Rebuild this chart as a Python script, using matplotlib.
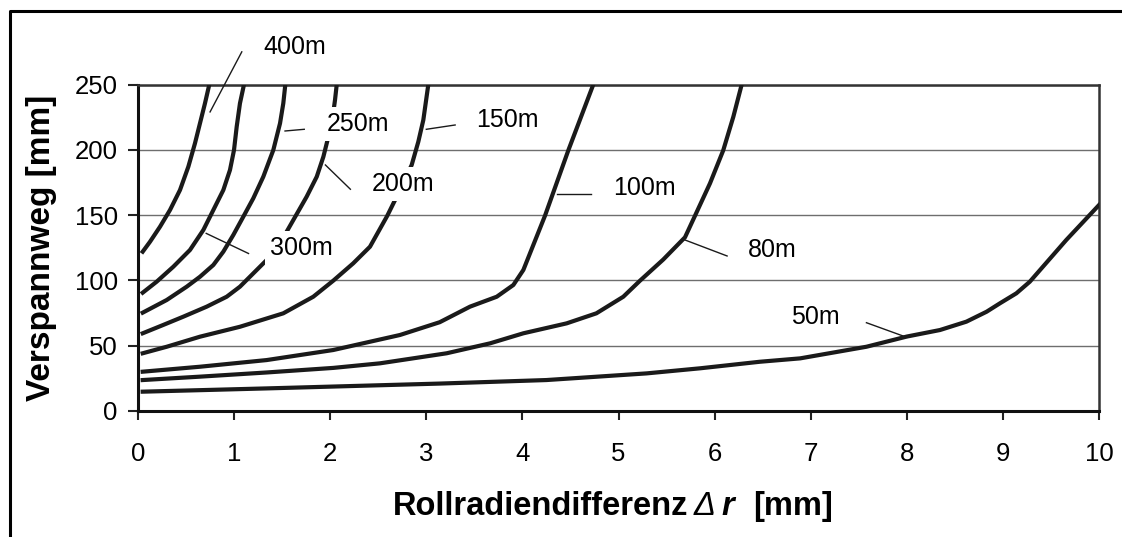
import matplotlib
matplotlib.use("Agg")
import matplotlib.pyplot as plt
from matplotlib.lines import Line2D

plt.rcParams["font.family"] = ["Liberation Sans", "DejaVu Sans"]

# curves: x = Rollradiendifferenz [mm], y = Verspannweg [mm]
r400_x = [0.049, 0.125, 0.229, 0.333, 0.437, 0.524, 0.593, 0.645, 0.697, 0.742]
r400_y = [122, 129.6, 141.1, 153.9, 169.2, 187.1, 205, 220.3, 235.6, 250]

r300_x = [0.049, 0.194, 0.368, 0.541, 0.680, 0.784, 0.888, 0.957, 0.999, 1.027, 1.061, 1.103]
r300_y = [90.6, 99, 110.5, 123.3, 138.6, 153.9, 169.2, 184.5, 199.8, 217.7, 235.6, 250]

r250_x = [0.049, 0.299, 0.507, 0.645, 0.784, 0.888, 0.992, 1.096, 1.200, 1.304, 1.408,
          1.478, 1.512, 1.533]
r250_y = [75.3, 85, 95.2, 102.8, 111.8, 122, 134.8, 148.8, 162.9, 179.4, 199.8,
          220.3, 235.6, 250]

r200_x = [0.049, 0.263, 0.471, 0.715, 0.923, 1.061, 1.200, 1.339, 1.478, 1.616, 1.755,
          1.860, 1.929, 1.981, 2.026, 2.050, 2.068]
r200_y = [59.5, 65.9, 72.2, 79.9, 87.5, 95.2, 105.4, 115.6, 128.4, 146.2, 164.1,
          179.4, 194.7, 210, 225.3, 238.1, 250]

r150_x = [0.049, 0.299, 0.645, 1.061, 1.512, 1.824, 2.032, 2.240, 2.414, 2.594, 2.726,
          2.848, 2.917, 2.969, 3.021]
r150_y = [44.2, 49.2, 56.9, 64.5, 74.8, 87.5, 99.8, 113.1, 125.8, 149.5, 169.2,
          188.4, 206.2, 222.8, 250]

r100_x = [0.049, 0.645, 1.339, 2.032, 2.726, 3.14, 3.455, 3.733, 3.906, 4.01, 4.235,
          4.478, 4.738]
r100_y = [30.1, 33.9, 39, 46.7, 58.2, 68, 79.9, 87.5, 96.5, 108, 149.5, 199.6, 250]

r80_x = [0.049, 0.645, 1.339, 2.032, 2.518, 3.212, 3.663, 4.01, 4.46, 4.77, 5.05, 5.224,
         5.466, 5.692, 5.796, 5.952, 6.09, 6.195, 6.282]
r80_y = [23.7, 26.3, 29.5, 33, 36.5, 44.2, 51.8, 59.5, 67.1, 74.8, 87.5, 99.8,
         116, 133, 149.5, 174.3, 199.6, 225.3, 250]

r50_x = [0.049, 1.339, 3.14, 4.25, 5.293, 5.85, 6.47, 6.89, 7.58, 8.0, 8.345, 8.62, 8.83,
         8.97, 9.14, 9.28, 9.66, 10.0]
r50_y = [14.8, 17.3, 21, 23.7, 28.8, 32.7, 37.7, 40.3, 49.2, 57, 62, 68.4, 76,
         82.5, 90.1, 99, 131, 157.7]

curves = [(r400_x, r400_y), (r300_x, r300_y), (r250_x, r250_y), (r200_x, r200_y),
          (r150_x, r150_y), (r100_x, r100_y), (r80_x, r80_y), (r50_x, r50_y)]

# curve labels: text, text anchor (left, middle), leader line start / end
label_texts = ["400m", "250m", "200m", "300m", "150m", "100m", "80m", "50m"]
label_pos = [(1.30, 279), (1.96, 220), (2.43, 174), (1.37, 124.6),
             (3.52, 222.8), (4.94, 170.5), (6.35, 123), (6.80, 72)]
leader_from = [(1.08, 275), (1.53, 214.4), (1.95, 188.4), (0.71, 136),
               (3.00, 215.7), (4.36, 166), (5.69, 131), (7.58, 67.6)]
leader_to = [(0.75, 229), (1.73, 215.7), (2.21, 169.8), (1.15, 120.6),
             (3.30, 219), (4.71, 166), (6.13, 118.7), (8.0, 56.4)]

x_ticks = list(range(0, 11))
y_ticks = [0, 50, 100, 150, 200, 250]

W, H = 1122, 537
fig = plt.figure(figsize=(W / 100, H / 100), dpi=100)
ax = fig.add_axes([138 / W, 1 - 411 / H, 961 / W, 326.5 / H])

for cx, cy in curves:
    ax.plot(cx, cy, color="#1a1a1a", lw=3.0, solid_joinstyle="round", zorder=3)

for (tx, ty), txt in zip(label_pos, label_texts):
    ax.text(tx, ty, txt, fontsize=18, ha="left", va="center", zorder=5,
            clip_on=False,
            bbox=dict(boxstyle="square,pad=0.2", fc="white", ec="none"))
for (x0, y0), (x1, y1) in zip(leader_from, leader_to):
    ax.plot([x0, x1], [y0, y1], color="#1a1a1a", lw=1.0, zorder=6, clip_on=False)

ax.set_xlim(0, 10)
ax.set_ylim(0, 250)
ax.set_xticks(x_ticks)
ax.set_yticks(y_ticks)
ax.tick_params(axis="both", direction="out", width=1.5, labelsize=18.5, color="#222")
ax.tick_params(axis="x", length=6.5, pad=16)
ax.tick_params(axis="y", length=7.5, pad=7)
ax.grid(axis="y", color="#6e6e6e", lw=1.0, zorder=1)
ax.set_axisbelow(True)

for side in ["left", "bottom"]:
    ax.spines[side].set_linewidth(2.2)
    ax.spines[side].set_color("#111")
for side in ["top", "right"]:
    ax.spines[side].set_linewidth(1.8)
    ax.spines[side].set_color("#333")

# x label built from pieces: bold text, italic Delta, bold italic r, bold unit
fs = 23.5
t1 = ax.text((393 - 138) / 961, -0.318, "Rollradiendifferenz", transform=ax.transAxes,
             ha="left", va="baseline", fontsize=fs, fontweight="bold")
t2 = ax.annotate("Δ", xy=(1, 0), xycoords=t1, xytext=(4, 0), textcoords="offset points",
                 ha="left", va="bottom", fontsize=fs, fontstyle="italic")
t3 = ax.annotate("r", xy=(1, 0), xycoords=t2, xytext=(4, 0), textcoords="offset points",
                 ha="left", va="bottom", fontsize=fs, fontstyle="italic", fontweight="bold")
ax.annotate("[mm]", xy=(1, 0), xycoords=t3, xytext=(14, 0), textcoords="offset points",
            ha="left", va="bottom", fontsize=fs, fontweight="bold")

ax.text(-0.0999, 0.50, "Verspannweg [mm]", transform=ax.transAxes,
        rotation=90, ha="center", va="center", fontsize=24, fontweight="bold")

# outer frame (top and left edge only)
fig.add_artist(Line2D([10 / W, 10 / W, 1.0], [0.0, 1 - 11 / H, 1 - 11 / H],
                      color="black", lw=2.2, transform=fig.transFigure))

fig.savefig("out.png", dpi=100)
